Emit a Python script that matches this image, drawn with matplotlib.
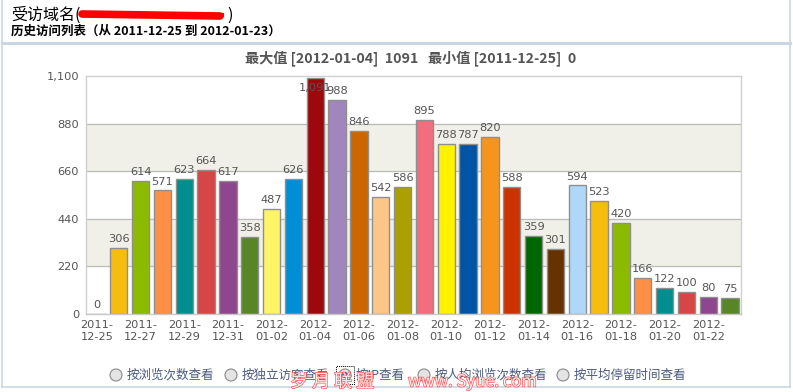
import matplotlib
matplotlib.use("Agg")
import matplotlib.pyplot as plt
import matplotlib.patheffects as pe
from matplotlib.patches import Ellipse, Rectangle
from matplotlib.lines import Line2D
import datetime as dt

plt.rcParams['font.family'] = ['DejaVu Sans', 'Noto Sans CJK SC']

# ---- data ----
start = dt.date(2011, 12, 25)
dates = [(start + dt.timedelta(days=i)).strftime("%Y-%m-%d") for i in range(30)]
values = [0, 306, 614, 571, 623, 664, 617, 358, 487, 626,
          1091, 988, 846, 542, 586, 895, 788, 787, 820, 588,
          359, 301, 594, 523, 420, 166, 122, 100, 80, 75]
yticks = [0, 220, 440, 660, 880, 1100]
ytick_labels = ["0", "220", "440", "660", "880", "1,100"]
palette = ["#AFD8F8", "#F6BD0F", "#8BBA00", "#FF8E46", "#008E8E", "#D64646",
           "#8E468E", "#588526", "#FFF468", "#008ED6", "#9D080D", "#A186BE",
           "#CC6600", "#FDC689", "#ABA000", "#F26D7D", "#FFF200", "#0054A6",
           "#F7941C", "#CC3300", "#006600", "#663300"]
title = "最大值 [2012-01-04]  1091   最小值 [2011-12-25]  0"
header1 = "受访域名("
header2 = "历史访问列表（从 2011-12-25 到 2012-01-23）"
options = ["按浏览次数查看", "按独立访客查看", "按IP查看", "按人均浏览次数查看", "按平均停留时间查看"]
selected = 2

W, H = 793, 392
fig = plt.figure(figsize=(W / 100, H / 100), dpi=100)
fig.patch.set_facecolor("white")

def fx(x): return x / W
def fy(y): return 1 - y / H

cjk = ['Noto Sans CJK SC', 'DejaVu Sans']
txtc = "#555555"
fs = 8.2

# ---- frame ----
border = "#C8D6E5"
fig.add_artist(Line2D([fx(2), fx(2)], [fy(0), fy(387)], color=border, lw=1.2))
fig.add_artist(Line2D([fx(790), fx(790)], [fy(0), fy(387)], color=border, lw=1.2))
fig.add_artist(Line2D([fx(2), fx(790)], [fy(387), fy(387)], color=border, lw=1.2))
fig.add_artist(Line2D([fx(2), fx(790)], [fy(42.5), fy(42.5)], color=border, lw=2.2))

# ---- header ----
fig.text(fx(11), fy(15), header1, fontsize=11.5, family=cjk, color="black", va="center", ha="left")
fig.add_artist(Line2D([fx(84), fx(222)], [fy(15), fy(15)], color="#2255CC", lw=3))
fig.add_artist(Line2D([fx(82), fx(220)], [fy(14), fy(16)], color="red", lw=5.5, solid_capstyle="round"))
fig.text(fx(227), fy(15), ")", fontsize=11.5, family=cjk, color="black", va="center", ha="left")
fig.text(fx(11), fy(31), header2, fontsize=9, family=cjk, color="black", va="center", ha="left",
         fontweight="bold")

# ---- chart ----
ax = fig.add_axes([fx(86), fy(314), fx(741) - fx(86), fy(76) - fy(314)])
ax.set_xlim(-0.5, len(values) - 0.5)
ax.set_ylim(0, 1100)
for i in range(0, len(yticks) - 1):
    if i % 2 == 1:
        ax.axhspan(yticks[i], yticks[i + 1], color="#F0F0E8", zorder=0)
for yv in yticks[1:-1]:
    ax.axhline(yv, color="#BBBBBB", lw=0.9, zorder=1)

colors = [palette[i % len(palette)] for i in range(len(values))]
x = list(range(len(values)))
ax.bar(x, values, width=0.8, color=colors, edgecolor="#8F8F8F", linewidth=1.0, zorder=2)

for xi, v in zip(x, values):
    lab = f"{v:,}"
    if v + 60 > 1100:
        ax.text(xi, v - 25, lab, ha="center", va="top", fontsize=fs, color=txtc, zorder=3)
    else:
        ax.text(xi, v + 18, lab, ha="center", va="bottom", fontsize=fs, color=txtc, zorder=3)

ax.set_yticks(yticks)
ax.set_yticklabels(ytick_labels, fontsize=fs, color=txtc)
ax.set_xticks(x[::2])
ax.set_xticklabels([d[:5] + "\n" + d[5:] for d in dates[::2]], fontsize=fs, color=txtc,
                   linespacing=1.25)
ax.tick_params(length=0, pad=5)
ax.tick_params(axis="x", pad=4)
for s in ax.spines.values():
    s.set_color("#D0D0D0")
    s.set_linewidth(1)
ax.spines["bottom"].set_color("#C8C8C8")

fig.text(fx(411), fy(58), title, fontsize=10.2, family=cjk, color=txtc, ha="center", va="center",
         fontweight="bold")

# ---- radio options ----
rx = [116, 231, 345, 424, 563]
for i, (xx, opt) in enumerate(zip(rx, options)):
    fig.add_artist(Ellipse((fx(xx), fy(375)), 12 / W, 12 / H, transform=fig.transFigure,
                           facecolor="#E4E4E4", edgecolor="#8A8A8A", lw=0.8))
    if i == selected:
        fig.add_artist(Ellipse((fx(xx), fy(375)), 6 / W, 6 / H, transform=fig.transFigure,
                               facecolor="#1A6FB0", edgecolor="none"))
        fig.add_artist(Rectangle((fx(xx - 9), fy(384)), 18 / W, 18 / H, transform=fig.transFigure,
                                 fill=False, ls=(0, (1, 1)), lw=0.7, edgecolor="black"))
    fig.text(fx(xx + 11), fy(375), opt, fontsize=9, family=cjk, color="#4A5A80",
             ha="left", va="center")

# ---- watermark ----
wm = fig.text(fx(290), fy(382), "岁 月 联 盟", fontsize=13, family=cjk, color="white",
              ha="left", va="center", alpha=0.9)
wm.set_path_effects([pe.withStroke(linewidth=1.0, foreground="#FF4040")])
wm2 = fig.text(fx(408), fy(382), "www. Syue. com", fontsize=12, family=cjk, color="white",
               ha="left", va="center", alpha=0.9)
wm2.set_path_effects([pe.withStroke(linewidth=1.0, foreground="#FF4040")])

fig.savefig("out.png", dpi=100, facecolor="white")
